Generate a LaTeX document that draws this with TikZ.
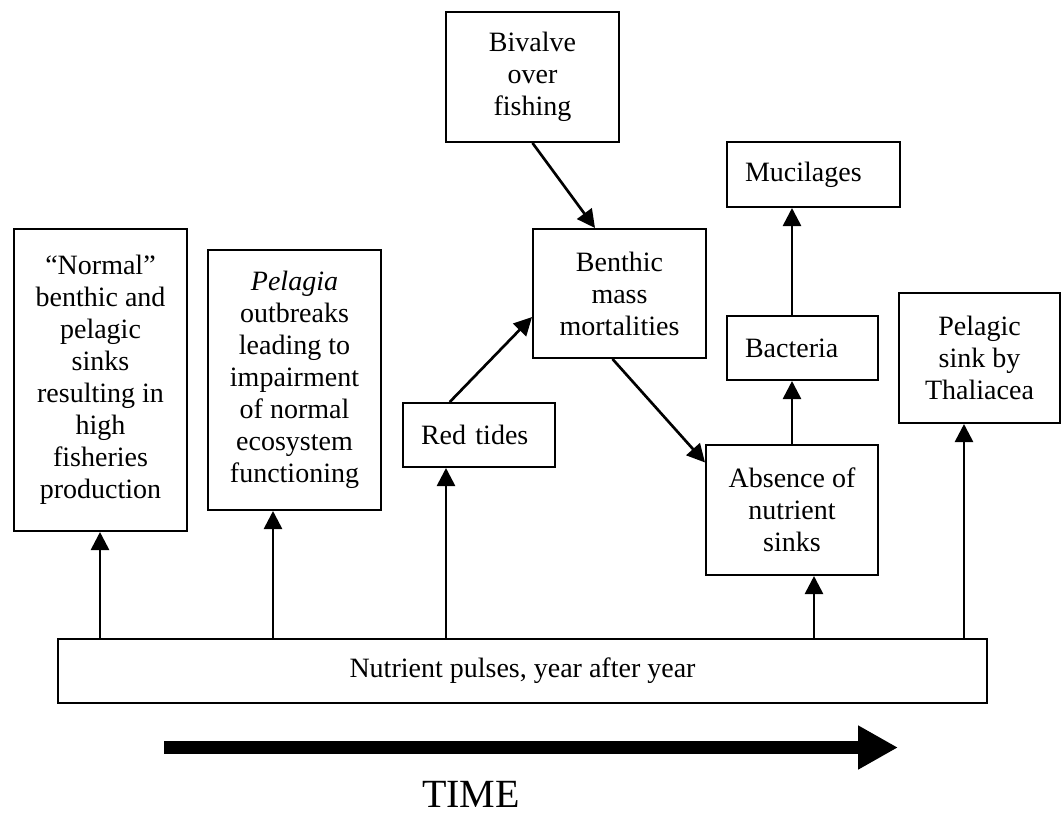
\documentclass[tikz,border=0pt]{standalone}
\usepackage{fontspec}
\setmainfont{Liberation Serif}
\usetikzlibrary{arrows.meta,calc}

\begin{document}
\begin{tikzpicture}[
        x=0.75pt, y=-0.75pt,
        box/.style={draw, line width=1.5pt, align=center, inner sep=0pt, font=\fontsize{21}{24}\selectfont},
        lbox/.style={box, align=left, inner xsep=13.5pt},
        arrow/.style={-{Triangle[length=13.5pt, width=13.5pt]}, line width=2pt},
        bigarrow/.style={-{Triangle[length=30pt, width=31pt]}, line width=9.75pt}
    ]
        \useasboundingbox (0,0) rectangle (1063,818);

        % Sinks
        \node[box, minimum width=129.75pt, minimum height=226.5pt] (normal) at (100.5,380) {“Normal”\\benthic and\\pelagic\\sinks\\resulting in\\high\\fisheries\\production};
        \node[box, minimum width=129.75pt, minimum height=195pt] (pelagia) at (294.5,380) {\textit{Pelagia}\\outbreaks\\leading to\\impairment\\of normal\\ecosystem\\functioning};
        \node[lbox, text width=87pt, minimum height=48pt] (redtides) at (479,435) {Red tides};
        \node[box, minimum width=129.75pt, minimum height=97.5pt] (bivalve) at (532.5,77) {Bivalve\\over\\fishing};
        \node[box, minimum width=129.75pt, minimum height=96.75pt] (benthic) at (619.5,293.5) {Benthic\\mass\\mortalities};
        \node[lbox, text width=102.75pt, minimum height=48.75pt] (mucilages) at (813.5,174.5) {Mucilages};
        \node[lbox, text width=86.25pt, minimum height=48pt] (bacteria) at (802.5,348) {Bacteria};
        \node[box, minimum width=129pt, minimum height=97.5pt] (absence) at (792,510) {Absence of\\nutrient\\sinks};
        \node[box, minimum width=120.75pt, minimum height=97.5pt] (thaliacea) at (979.5,358) {Pelagic\\sink by\\Thaliacea};

        % Nutrient input
        \node[box, minimum width=696.75pt, minimum height=48pt] (nutrient) at (522.5,671) {Nutrient pulses, year after year};
        \coordinate (p1) at (100,639);
        \coordinate (p2) at (273,639);
        \coordinate (p3) at (446,639);
        \coordinate (p4) at (814,639);
        \coordinate (p5) at (964,639);

        % Arrows
        \draw[arrow] (p1) -- (p1 |- normal.south);
        \draw[arrow] (p2) -- (p2 |- pelagia.south);
        \draw[arrow] (p3) -- (p3 |- redtides.south);
        \draw[arrow] (p4) -- (p4 |- absence.south);
        \draw[arrow] (p5) -- (p5 |- thaliacea.south);
        \draw[arrow] (bivalve.south) -- ($(benthic.north west)!0.36!(benthic.north east)$);
        \draw[arrow] ($(redtides.north west)!0.31!(redtides.north east)$) -- ($(benthic.north west)!0.68!(benthic.south west)$);
        \draw[arrow] ($(benthic.south west)!0.46!(benthic.south east)$) -- ($(absence.north west)!0.14!(absence.south west)$);
        \draw[arrow] (absence.north) -- (absence.north |- bacteria.south);
        \draw[arrow] (absence.north |- bacteria.north) -- (absence.north |- mucilages.south);

        % Time
        \coordinate (tstart) at (164,747.5);
        \coordinate (tend) at (898,747.5);
        \draw[bigarrow] (tstart) -- (tend);
        \node[font=\fontsize{30}{34}\selectfont, anchor=base, inner sep=0pt] (time) at (471,807) {TIME};

\end{tikzpicture}
\end{document}
